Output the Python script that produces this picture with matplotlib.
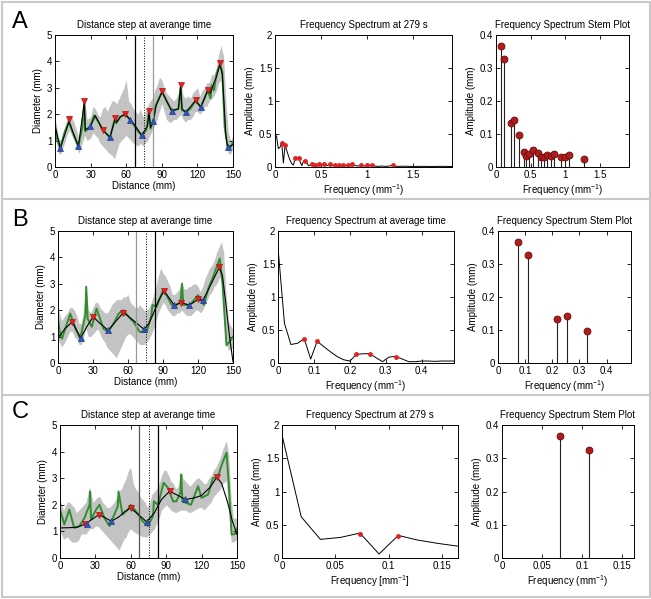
import numpy as np
import matplotlib
matplotlib.use("Agg")
import matplotlib.pyplot as plt
from matplotlib.ticker import FormatStrFormatter
from matplotlib.lines import Line2D

plt.rcParams['font.family'] = ['Liberation Sans', 'DejaVu Sans']
plt.rcParams['font.size'] = 7
plt.rcParams['mathtext.fontset'] = 'custom'
plt.rcParams['mathtext.rm'] = 'Liberation Sans'

# ---------------- Row A : diameter profile ----------------
A_black_x = [0, 4.5, 11.8, 19.7, 24.7, 25.5, 29.8, 34, 40.2, 46.3, 50.6, 52, 55, 59.3, 63.2, 67, 73, 78, 79.2, 80.5, 82.9, 85, 90.2, 98.3, 104, 105.9, 107, 110.4, 118.5, 122.8, 128.7, 131, 134, 136, 139, 141, 144, 145.5, 150]
A_black_y = [1.55, 0.72, 1.72, 0.78, 2.45, 1.4, 1.54, 1.95, 1.41, 1.12, 1.83, 1.7, 1.9, 2.0, 1.79, 1.6, 1.2, 1.55, 2.1, 1.5, 1.76, 2.3, 2.85, 2.13, 2.2, 3.05, 2.2, 2.08, 2.52, 2.27, 2.9, 2.8, 3.2, 3.4, 3.9, 3.5, 1.2, 0.74, 0.85]
A_green_x = [0, 2, 4.5, 8, 11.8, 15, 19.7, 23, 24.7, 25.5, 29.8, 33, 36, 40.2, 46.3, 50.6, 51.5, 53, 55, 59.3, 63.2, 67, 70, 73, 77, 79.2, 80.5, 82.9, 85, 90.2, 94, 98.3, 104, 105.9, 107, 110.4, 114, 118.5, 122.8, 126, 128.7, 131, 132, 134, 136, 139, 141, 143, 145.5, 148, 150]
A_green_y = [1.6, 1.0, 0.72, 1.3, 1.72, 1.3, 0.78, 1.5, 2.45, 1.35, 1.54, 1.95, 1.75, 1.41, 1.12, 1.83, 1.65, 1.75, 1.9, 2.0, 1.79, 1.55, 1.35, 1.2, 1.4, 2.1, 1.45, 1.76, 2.35, 2.85, 2.5, 2.13, 2.2, 3.05, 2.15, 2.08, 2.2, 2.52, 2.27, 2.6, 2.9, 2.6, 3.1, 2.9, 3.5, 3.9, 3.6, 1.5, 0.74, 0.75, 0.95]
A_band_x = [0, 3, 5, 8, 10, 12, 14, 16, 18, 20, 23, 25, 27, 30, 32, 34, 36, 38, 40, 42, 44, 46, 48, 50, 52, 54, 56, 58, 60, 62, 64, 66, 68, 70, 72, 74, 76, 78, 80, 82, 84, 86, 88, 90, 92, 94, 96, 98, 100, 102, 104, 106, 108, 110, 112, 114, 116, 118, 120, 122, 124, 126, 128, 130, 132, 134, 136, 138, 140, 142, 144, 146, 148, 150]
A_band_hi = [1.9, 1.1, 1.0, 1.5, 1.8, 2.0, 1.9, 1.7, 1.4, 1.1, 1.8, 2.6, 1.8, 1.9, 2.3, 2.2, 2.0, 1.9, 2.2, 2.3, 2.1, 2.3, 2.5, 2.5, 2.4, 2.6, 2.8, 3.0, 3.3, 2.5, 2.4, 2.2, 2.1, 2.0, 2.2, 1.9, 2.1, 2.3, 2.5, 2.6, 2.9, 3.1, 3.4, 3.3, 3.0, 2.8, 2.7, 2.6, 2.5, 2.6, 2.8, 3.2, 2.7, 2.6, 2.7, 2.6, 2.8, 2.9, 3.0, 2.7, 2.9, 3.0, 3.2, 3.2, 3.5, 3.5, 3.8, 4.3, 4.6, 4.2, 2.5, 1.3, 1.0, 1.2]
A_band_lo = [1.2, 0.5, 0.5, 0.9, 1.2, 1.4, 1.2, 1.0, 0.8, 0.5, 0.9, 1.2, 1.0, 1.1, 1.3, 1.2, 1.1, 0.9, 0.8, 0.7, 0.6, 0.5, 0.45, 0.3, 0.6, 0.9, 1.0, 1.1, 1.2, 1.1, 1.0, 0.9, 0.85, 0.8, 0.9, 0.8, 0.9, 1.0, 1.2, 1.4, 1.6, 1.8, 2.1, 2.4, 2.1, 1.8, 1.7, 1.7, 1.8, 1.8, 1.9, 2.0, 1.8, 1.7, 1.8, 1.8, 1.9, 2.1, 2.1, 2.0, 2.1, 2.3, 2.3, 2.5, 2.6, 2.7, 2.9, 3.2, 3.3, 2.0, 0.9, 0.5, 0.5, 0.7]
A_max_x = [11.8, 24.7, 40.2, 50.6, 59.3, 79.2, 90.2, 105.9, 118.5, 128.7, 139]
A_max_y = [1.83, 2.5, 1.41, 1.85, 2.0, 2.13, 2.88, 3.11, 2.54, 2.92, 3.93]
A_min_x = [4.5, 19.7, 29.8, 46.3, 63.2, 73, 82.9, 98.3, 110.4, 122.8, 145.5]
A_min_y = [0.72, 0.78, 1.54, 1.12, 1.79, 1.2, 1.76, 2.13, 2.08, 2.27, 0.74]

# ---------------- Row B ----------------
B_black_x = [0, 6, 12.3, 19.4, 25, 30.2, 36, 43, 50, 56.1, 65, 73.8, 78, 82, 86, 90.9, 99.7, 105.7, 112.5, 120.2, 124.2, 128, 133, 138.2, 141, 144, 147, 150]
B_black_y = [0.95, 1.3, 1.56, 0.95, 1.4, 1.75, 1.5, 1.24, 1.6, 1.91, 1.6, 1.27, 1.5, 1.9, 2.35, 2.73, 2.19, 2.29, 2.19, 2.41, 2.38, 2.7, 3.15, 3.62, 3.3, 2.2, 1.0, 0.05]
B_green_x = [0, 1.5, 3.4, 7, 10.5, 15, 19, 23.4, 24.2, 25.4, 29, 33, 39, 43, 47.6, 52, 56, 62, 64.7, 70, 76, 80, 81, 84.6, 90, 93, 97.4, 101.7, 105, 106.3, 107.4, 113, 120, 125, 128.8, 133, 138.7, 141, 144.4, 147, 150]
B_green_y = [1.68, 1.18, 0.92, 1.4, 1.87, 1.3, 0.92, 1.8, 2.89, 1.68, 1.37, 2.06, 1.3, 1.18, 1.49, 1.87, 2.0, 1.68, 1.56, 1.18, 1.18, 1.8, 2.2, 2.13, 2.76, 2.57, 2.2, 2.2, 2.3, 3.0, 2.2, 2.2, 2.57, 2.2, 2.82, 3.27, 3.96, 3.0, 0.67, 0.8, 1.0]
B_band_x = [0, 3, 6, 8, 10, 12, 14, 16, 18, 20, 22, 24, 26, 28, 30, 32, 34, 36, 38, 40, 42, 44, 46, 48, 50, 52, 54, 56, 58, 60, 62, 64, 66, 68, 70, 72, 74, 76, 78, 80, 82, 84, 86, 88, 90, 92, 94, 96, 98, 100, 102, 104, 106, 108, 110, 112, 114, 116, 118, 120, 122, 124, 126, 128, 130, 132, 134, 136, 138, 140, 142, 144, 146, 148, 150]
B_band_hi = [2.1, 1.6, 1.8, 1.9, 2.1, 2.1, 2.0, 1.8, 1.5, 1.5, 2.0, 2.9, 2.0, 1.9, 2.1, 2.3, 2.3, 2.1, 2.0, 1.9, 1.9, 2.0, 2.2, 2.3, 2.4, 2.4, 2.4, 2.5, 2.5, 2.6, 2.3, 2.2, 2.1, 2.1, 2.2, 2.1, 2.0, 2.0, 2.1, 2.3, 2.6, 2.9, 3.3, 3.6, 3.4, 3.3, 3.1, 2.9, 2.6, 2.6, 2.7, 2.8, 3.1, 2.8, 2.8, 2.9, 2.9, 3.0, 3.0, 2.9, 2.7, 2.9, 3.2, 3.4, 3.6, 3.7, 3.9, 4.2, 4.4, 4.6, 4.2, 2.6, 1.6, 1.4, 1.3]
B_band_lo = [0.9, 0.6, 0.8, 1.0, 1.2, 1.2, 1.0, 0.9, 0.7, 0.7, 1.0, 1.3, 1.0, 1.0, 1.1, 1.2, 1.3, 1.1, 0.9, 0.8, 0.6, 0.5, 0.4, 0.3, 0.2, 0.4, 0.6, 0.8, 1.0, 1.1, 1.1, 1.0, 0.9, 0.8, 0.7, 0.7, 0.7, 0.8, 0.9, 1.1, 1.3, 1.6, 1.9, 2.1, 2.3, 2.2, 2.0, 1.9, 1.8, 1.8, 1.9, 1.9, 2.0, 1.9, 1.8, 1.8, 1.8, 1.9, 2.0, 2.0, 1.9, 2.0, 2.2, 2.4, 2.6, 2.7, 2.9, 3.0, 3.2, 3.3, 2.2, 0.8, 0.5, 0.5, 0.6]
B_max_x = [12.3, 30.2, 56.1, 90.9, 105.7, 120.2, 138.2]
B_max_y = [1.56, 1.75, 1.91, 2.73, 2.29, 2.41, 3.62]
B_min_x = [19.4, 43, 73.8, 99.7, 112.5, 124.2]
B_min_y = [0.95, 1.24, 1.27, 2.19, 2.19, 2.38]

# ---------------- Row C ----------------
C_black_x = [0, 8, 15, 21.5, 27, 32.9, 38, 43.6, 50, 55, 59.8, 66, 73.4, 80, 86, 92.9, 100, 106.2, 113, 120, 127, 133, 137, 142, 146, 150]
C_black_y = [1.13, 1.14, 1.16, 1.28, 1.45, 1.63, 1.52, 1.38, 1.55, 1.75, 1.88, 1.65, 1.36, 1.7, 2.2, 2.51, 2.35, 2.2, 2.25, 2.35, 2.65, 3.04, 2.8, 2.1, 1.4, 0.88]
C_green_x = [0, 3.7, 7.9, 12, 16.4, 20.7, 25, 25.5, 26.3, 30.6, 33.4, 37.7, 42, 46, 49, 49.6, 53, 57.5, 60, 64.3, 70, 74.5, 78.8, 79.6, 83, 87.8, 91.5, 95.8, 98.6, 102, 102.8, 103.7, 107, 111, 117, 120, 125.5, 129.7, 134, 137, 141.1, 143, 145.4, 148, 150]
C_green_y = [1.82, 1.26, 1.82, 1.13, 1.2, 1.5, 2.0, 2.5, 1.45, 1.82, 2.0, 1.5, 1.2, 1.63, 1.95, 2.5, 1.63, 1.82, 2.0, 1.76, 1.38, 1.2, 1.57, 2.13, 2.0, 2.83, 2.64, 2.13, 2.13, 2.45, 3.14, 2.13, 2.07, 2.0, 2.7, 2.26, 2.39, 3.0, 3.08, 3.5, 3.96, 2.8, 0.88, 0.9, 1.1]
C_band_x = [0, 3, 6, 8, 10, 12, 14, 16, 18, 20, 22, 25, 28, 30, 32, 34, 36, 38, 40, 42, 44, 46, 48, 50, 52, 54, 56, 58, 60, 62, 64, 66, 68, 70, 72, 74, 76, 78, 80, 82, 84, 86, 88, 90, 92, 94, 96, 98, 100, 102, 104, 106, 108, 110, 112, 114, 116, 118, 120, 122, 124, 126, 128, 130, 132, 134, 136, 138, 141, 143, 145, 147, 150]
C_band_hi = [2.2, 1.8, 2.1, 2.1, 2.0, 1.9, 1.7, 1.8, 1.9, 2.0, 2.1, 2.7, 2.1, 2.2, 2.3, 2.3, 2.1, 2.0, 1.9, 1.9, 2.0, 2.1, 2.3, 2.5, 2.6, 2.8, 3.0, 3.3, 3.4, 2.8, 2.6, 2.5, 2.3, 2.2, 2.1, 1.9, 2.1, 2.4, 2.5, 2.6, 2.8, 3.1, 3.3, 3.3, 3.1, 2.9, 2.8, 2.6, 2.7, 3.2, 3.0, 2.9, 2.8, 2.7, 2.8, 2.9, 3.0, 3.0, 2.9, 2.8, 2.8, 3.0, 3.1, 3.3, 3.4, 3.6, 3.8, 4.1, 4.4, 3.9, 2.2, 1.5, 1.5]
C_band_lo = [1.0, 0.7, 0.8, 0.7, 0.6, 0.6, 0.6, 0.7, 0.9, 0.9, 0.9, 1.1, 1.1, 1.2, 1.2, 1.1, 1.0, 0.9, 0.8, 0.7, 0.6, 0.5, 0.4, 0.3, 0.5, 0.7, 0.8, 1.0, 1.1, 1.0, 0.95, 0.9, 0.85, 0.8, 0.8, 0.8, 0.9, 1.0, 1.1, 1.3, 1.5, 1.8, 1.9, 2.0, 1.9, 1.8, 1.75, 1.7, 1.75, 1.8, 1.8, 1.8, 1.75, 1.7, 1.75, 1.8, 1.85, 1.9, 1.9, 1.8, 1.9, 2.0, 2.1, 2.3, 2.4, 2.5, 2.6, 2.8, 2.9, 1.8, 0.6, 0.6, 0.7]
C_max_x = [21.5, 32.9, 59.8, 92.9, 133]
C_max_y = [1.28, 1.63, 1.88, 2.51, 3.04]
C_min_x = [22.7, 43.6, 73.4, 106.2]
C_min_y = [1.26, 1.38, 1.36, 2.2]

# ---------------- Spectra ----------------
specA_f = [0, 0.006, 0.018, 0.036, 0.055, 0.073, 0.091, 0.109, 0.127, 0.146, 0.164, 0.182, 0.2, 0.218, 0.237, 0.255, 0.273, 0.291, 0.309, 0.328, 0.346, 0.364, 0.382, 0.4, 0.418, 0.436, 0.455, 0.49, 0.51, 0.527, 0.546, 0.564, 0.582, 0.6, 0.62, 0.647, 0.67, 0.696, 0.72, 0.739, 0.76, 0.787, 0.81, 0.84, 0.87, 0.9, 0.937, 0.97, 1.0, 1.02, 1.048, 1.08, 1.12, 1.16, 1.2, 1.24, 1.275, 1.31, 1.4, 1.5, 1.6, 1.7, 1.8, 1.92]
specA_a = [1.38, 0.5, 0.45, 0.28, 0.3, 0.37, 0.06, 0.33, 0.25, 0.17, 0.1, 0.05, 0.03, 0.13, 0.14, 0.14, 0.08, 0.02, 0.09, 0.1, 0.06, 0.02, 0.03, 0.046, 0.025, 0.034, 0.03, 0.04, 0.03, 0.051, 0.03, 0.02, 0.03, 0.042, 0.02, 0.029, 0.02, 0.029, 0.02, 0.036, 0.02, 0.032, 0.02, 0.038, 0.02, 0.015, 0.029, 0.015, 0.029, 0.02, 0.035, 0.015, 0.01, 0.015, 0.01, 0.015, 0.025, 0.01, 0.012, 0.008, 0.01, 0.008, 0.01, 0.008]
stemA_f = [0.073, 0.109, 0.218, 0.255, 0.328, 0.4, 0.436, 0.473, 0.527, 0.6, 0.647, 0.696, 0.739, 0.787, 0.84, 0.937, 1.0, 1.048, 1.275]
stemA_a = [0.366, 0.328, 0.133, 0.141, 0.096, 0.046, 0.034, 0.040, 0.051, 0.042, 0.029, 0.029, 0.036, 0.032, 0.038, 0.029, 0.029, 0.035, 0.025]

specB_f = [0, 0.018, 0.036, 0.055, 0.073, 0.091, 0.109, 0.127, 0.146, 0.164, 0.182, 0.2, 0.218, 0.237, 0.255, 0.273, 0.291, 0.309, 0.328, 0.346, 0.364, 0.382, 0.4, 0.418, 0.436, 0.455, 0.473, 0.49]
specB_a = [1.75, 0.6, 0.28, 0.3, 0.37, 0.06, 0.33, 0.25, 0.17, 0.1, 0.05, 0.03, 0.13, 0.14, 0.14, 0.08, 0.02, 0.09, 0.1, 0.06, 0.02, 0.02, 0.03, 0.03, 0.025, 0.03, 0.03, 0.03]
stemB_f = [0.073, 0.109, 0.218, 0.255, 0.328]
stemB_a = [0.366, 0.326, 0.134, 0.141, 0.097]

specC_f = [0, 0.018, 0.036, 0.055, 0.073, 0.091, 0.109, 0.127, 0.146, 0.164, 0.182]
specC_a = [1.85, 0.62, 0.28, 0.31, 0.375, 0.06, 0.34, 0.27, 0.22, 0.18, 0.12]
stemC_f = [0.073, 0.109]
stemC_a = [0.366, 0.326]

vlines = {'A': [(67, '#000000', '-'), (75, '#000000', ':'), (83, '#999999', '-')],
          'B': [(67, '#999999', '-'), (75, '#000000', ':'), (83, '#000000', '-')],
          'C': [(67, '#555555', '-'), (75, '#000000', ':'), (83, '#000000', '-')]}

W, H = 651, 599
fig = plt.figure(figsize=(W / 100, H / 100), dpi=100)


def add_ax(l, r, t, b):
    return fig.add_axes([l / W, 1 - b / H, (r - l) / W, (b - t) / H])


def style(ax):
    ax.tick_params(direction='in', top=True, right=True, length=3, width=0.6,
                   labelsize=7, pad=2)
    for s in ax.spines.values():
        s.set_linewidth(0.7)
    ax.xaxis.set_major_formatter(FormatStrFormatter('%g'))
    ax.yaxis.set_major_formatter(FormatStrFormatter('%g'))


GRAY = '#c3c3c3'
GREEN = '#2f8f2f'
RED = '#e52222'
BLUE = '#3355b5'
STEMRED = '#b01c1c'


def profile(ax, bx, bhi, blo, gx, gy, kx, ky, mxx, mxy, mnx, mny, vl):
    ax.fill_between(bx, blo, bhi, color=GRAY, lw=0)
    ax.plot(gx, gy, color=GREEN, lw=1.4)
    ax.plot(kx, ky, color='black', lw=0.8)
    for x, c, ls in vl:
        ax.axvline(x, color=c, ls=ls, lw=0.9 if ls == '-' else 0.7)
    ax.plot(mxx, mxy, 'v', ms=5, mfc=RED, mec='#b01010', mew=0.5, ls='none')
    ax.plot(mnx, mny, '^', ms=5, mfc=BLUE, mec='#203a90', mew=0.5, ls='none')
    ax.set_xlim(0, 150)
    ax.set_ylim(0, 5)
    ax.set_xticks([0, 30, 60, 90, 120, 150])
    ax.set_yticks([0, 1, 2, 3, 4, 5])
    ax.set_xlabel('Distance (mm)', labelpad=1)
    ax.set_ylabel('Diameter (mm)', labelpad=3)
    ax.set_title('Distance step at averange time', fontsize=7, pad=5)
    style(ax)


def spectrum(ax, f, a, pf, pa, xmax, xt, title, xlabel):
    ax.plot(f, a, color='black', lw=0.7)
    ax.plot(pf, pa, 'o', ms=2.5, mfc=RED, mec=RED, ls='none')
    ax.set_xlim(0, xmax)
    ax.set_ylim(0, 2)
    ax.set_xticks(xt)
    ax.set_yticks([0, 0.5, 1, 1.5, 2])
    ax.set_xlabel(xlabel, labelpad=2)
    ax.set_ylabel('Amplitude (mm)', labelpad=3)
    ax.set_title(title, fontsize=7, pad=5)
    style(ax)


def stem(ax, f, a, xmax, xt):
    ax.vlines(f, 0, a, color='#222222', lw=0.8)
    ax.plot(f, a, 'o', ms=5, mfc=STEMRED, mec='#6a0d0d', mew=0.6, ls='none')
    ax.set_xlim(0, xmax)
    ax.set_ylim(0, 0.4)
    ax.set_xticks(xt)
    ax.set_yticks([0, 0.1, 0.2, 0.3, 0.4])
    ax.set_xlabel('Frequency (mm$^{-1}$)', labelpad=2)
    ax.set_ylabel('Amplitude (mm)', labelpad=3)
    ax.set_title('Frequency Spectrum Stem Plot', fontsize=7, pad=5)
    style(ax)


# Row A
ax = add_ax(55, 233, 35, 167)
profile(ax, A_band_x, A_band_hi, A_band_lo, A_green_x, A_green_y, A_black_x, A_black_y,
        A_max_x, A_max_y, A_min_x, A_min_y, vlines['A'])
ax = add_ax(275, 452, 35, 167)
spectrum(ax, specA_f, specA_a, stemA_f, stemA_a, 1.92, [0, 0.5, 1, 1.5],
         'Frequency Spectrum at 279 s', 'Frequency (mm$^{-1}$)')
ax = add_ax(496, 629, 35, 167)
stem(ax, stemA_f, stemA_a, 1.92, [0, 0.5, 1, 1.5])

# Row B
ax = add_ax(58, 233, 231, 363)
profile(ax, B_band_x, B_band_hi, B_band_lo, B_green_x, B_green_y, B_black_x, B_black_y,
        B_max_x, B_max_y, B_min_x, B_min_y, vlines['B'])
ax = add_ax(278, 454, 231, 363)
spectrum(ax, specB_f, specB_a, stemB_f, stemB_a, 0.49, [0, 0.1, 0.2, 0.3, 0.4],
         'Frequency Spectrum at average time', 'Frequency (mm$^{-1}$)')
ax = add_ax(498, 631, 231, 363)
stem(ax, stemB_f, stemB_a, 0.49, [0, 0.1, 0.2, 0.3, 0.4])

# Row C
ax = add_ax(60, 237, 425, 558)
profile(ax, C_band_x, C_band_hi, C_band_lo, C_green_x, C_green_y, C_black_x, C_black_y,
        C_max_x, C_max_y, C_min_x, C_min_y, vlines['C'])
ax = add_ax(282, 458, 425, 558)
spectrum(ax, specC_f, specC_a, stemC_f, stemC_a, 0.165, [0, 0.05, 0.1, 0.15],
         'Frequency Spectrum at 279 s', 'Frequency [mm$^{-1}$]')
ax = add_ax(502, 634, 425, 558)
stem(ax, stemC_f, stemC_a, 0.165, [0, 0.05, 0.1, 0.15])

# panel letters
for letter, y in [('A', 22), ('B', 220), ('C', 412)]:
    fig.text(20 / W, 1 - y / H, letter, fontsize=17, ha='center', va='center')

# frame and row separators
bc = '#c8c8c8'
fig.add_artist(Line2D([1.5 / W, 649.5 / W, 649.5 / W, 1.5 / W, 1.5 / W],
                      [1 - 1.5 / H, 1 - 1.5 / H, 1 - 597 / H, 1 - 597 / H, 1 - 1.5 / H],
                      color=bc, lw=1.5))
for y in [199, 395]:
    fig.add_artist(Line2D([1.5 / W, 649.5 / W], [1 - y / H, 1 - y / H], color=bc, lw=1.5))

fig.savefig('out.png', dpi=100)
